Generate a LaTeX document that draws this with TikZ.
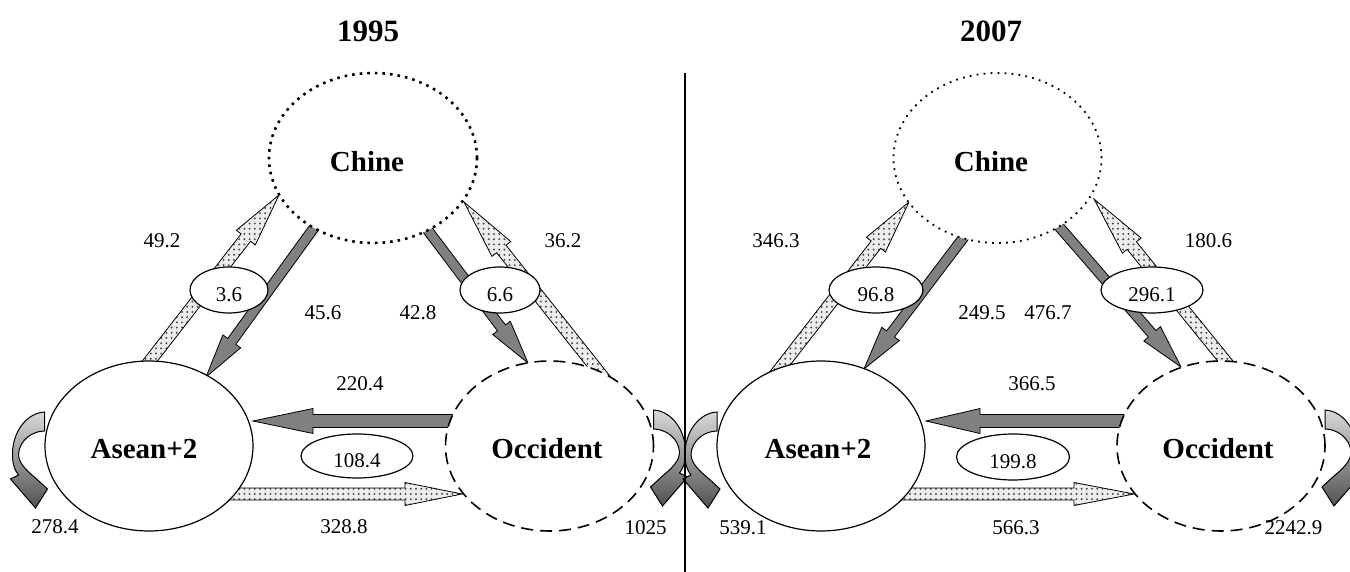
\documentclass[tikz,border=0pt]{standalone}
\usepackage{fontspec}
\setmainfont{Liberation Serif}
\usetikzlibrary{calc,shapes.geometric,patterns.meta}

\newcommand{\fatarr}[6]{%
  \coordinate (fab) at ($(#3)!#6!(#2)$);
  \draw[#1] ($(#2)!#4!90:(#3)$) -- ($(fab)!#4!-90:(#2)$) -- ($(fab)!#5!-90:(#2)$) -- (#3) -- ($(fab)!#5!90:(#2)$) -- ($(fab)!#4!90:(#2)$) -- ($(#2)!#4!-90:(#3)$) -- cycle;}

\newcommand{\selfloop}[2]{%
  \begin{scope}[shift={(#1)}, xscale=#2]
    \draw[loopst] (0,0) .. controls (18,1) and (32,20) .. (32,42)
      .. controls (32,52) and (30,58) .. (26,63) -- (34,67) -- (9,96) -- (-3,77) -- (9,66)
      .. controls (20,57) and (26,50) .. (26,42) .. controls (25,28) and (12,19) .. (0,19) -- cycle;
  \end{scope}}

\tikzset{
  darkarr/.style={draw=black, line width=0.4pt, fill=black!50},
  dotarr/.style={draw=black, line width=0.4pt, preaction={fill=black!7},
    pattern={Dots[radius=0.55pt, distance=2.6pt]}, pattern color=black!70},
  loopst/.style={draw=black, line width=0.5pt, top color=black!15, bottom color=black!68},
  country/.style={ellipse, minimum width=104pt, minimum height=85pt, fill=white, inner sep=0pt},
  ase/.style={country, draw, line width=0.6pt},
  occ/.style={country, draw, line width=0.8pt, dash pattern=on 6pt off 3.5pt},
  chA/.style={country, draw, line width=1.3pt, dash pattern=on 1.3pt off 2.5pt},
  chB/.style={country, draw, line width=0.9pt, dash pattern=on 0.9pt off 2.6pt},
  cname/.style={font=\fontsize{14.5}{16}\selectfont\bfseries, inner sep=0pt},
  title/.style={font=\fontsize{15.5}{17}\selectfont\bfseries, inner sep=0pt},
  val/.style={ellipse, draw, line width=0.6pt, fill=white, inner sep=0pt},
  lab/.style={font=\fontsize{10.5}{12}\selectfont, inner sep=0pt}
}

\begin{document}
\begin{tikzpicture}[x=0.5pt,y=-0.5pt]
\useasboundingbox (0,0) rectangle (1350,572);

% ---------- end points ----------
\coordinate (a1s) at (139,375);  \coordinate (a1e) at (279,195);
\coordinate (a2s) at (324,214);  \coordinate (a2e) at (206,377);
\coordinate (a3s) at (417,216);  \coordinate (a3e) at (528,363);
\coordinate (a4s) at (611,387);  \coordinate (a4e) at (464,202);
\coordinate (h1s) at (458,421);  \coordinate (h1e) at (253,421);
\coordinate (h2s) at (228,494);  \coordinate (h2e) at (462,494);

\coordinate (b1s) at (771,380);  \coordinate (b1e) at (909,202);
\coordinate (b2s) at (973,225);  \coordinate (b2e) at (864,369);
\coordinate (b3s) at (1049,215); \coordinate (b3e) at (1181,367);
\coordinate (b4s) at (1235,373); \coordinate (b4e) at (1094,199);
\coordinate (h3s) at (1128,421); \coordinate (h3e) at (926,421);
\coordinate (h4s) at (898,494);  \coordinate (h4e) at (1134,494);

% ---------- arrows ----------
\fatarr{dotarr}{a1s}{a1e}{3pt}{6pt}{27pt}
\fatarr{darkarr}{a2s}{a2e}{2.5pt}{5.5pt}{22pt}
\fatarr{darkarr}{a3s}{a3e}{2.5pt}{5.5pt}{22pt}
\fatarr{dotarr}{a4s}{a4e}{3pt}{6pt}{30pt}
\fatarr{darkarr}{h1s}{h1e}{3.25pt}{6.25pt}{30pt}
\fatarr{dotarr}{h2s}{h2e}{3pt}{5.75pt}{28.5pt}

\fatarr{dotarr}{b1s}{b1e}{3pt}{6pt}{27pt}
\fatarr{darkarr}{b2s}{b2e}{2.5pt}{5.5pt}{22pt}
\fatarr{darkarr}{b3s}{b3e}{2.5pt}{5.5pt}{22pt}
\fatarr{dotarr}{b4s}{b4e}{3pt}{6pt}{30pt}
\fatarr{darkarr}{h3s}{h3e}{3.25pt}{6.25pt}{27pt}
\fatarr{dotarr}{h4s}{h4e}{3pt}{5.75pt}{30pt}

% ---------- self loops ----------
\selfloop{44.5,412}{-1}
\selfloop{653.5,410}{1}
\selfloop{717,412}{-1}
\selfloop{1325,410}{1}

% ---------- divider ----------
\coordinate (vtop) at (685,73);
\coordinate (vbot) at (685,572);
\draw[line width=0.75pt] (vtop) -- (vbot);

% ---------- countries ----------
\node[ase] (as1) at (149,446) {};
\node[chA] (ch1) at (373,158) {};
\node[occ] (oc1) at (549.5,446) {};
\node[ase] (as2) at (821,446) {};
\node[chB] (ch2) at (997.5,158) {};
\node[occ] (oc2) at (1221,446) {};

\node[cname] (as1t) at (144,449) {Asean+2};
\node[cname] (ch1t) at (367,162) {Chine};
\node[cname] (oc1t) at (547,449) {Occident};
\node[cname] (as2t) at (818,449) {Asean+2};
\node[cname] (ch2t) at (991,162) {Chine};
\node[cname] (oc2t) at (1218,449) {Occident};

% ---------- balance ellipses ----------
\node[val, minimum width=39pt, minimum height=23pt] (v1) at (229,290) {};
\node[val, minimum width=40pt, minimum height=23pt] (v2) at (500,290) {};
\node[val, minimum width=56pt, minimum height=22pt] (v3) at (357,456) {};
\node[val, minimum width=47pt, minimum height=23pt] (v4) at (876,290) {};
\node[val, minimum width=51pt, minimum height=23pt] (v5) at (1152,290) {};
\node[val, minimum width=56.5pt, minimum height=23pt] (v6) at (1013,457) {};
\node[lab] (v1t) at (229,295) {3.6};
\node[lab] (v2t) at (500,295) {6.6};
\node[lab] (v3t) at (357,461) {108.4};
\node[lab] (v4t) at (876,295) {96.8};
\node[lab] (v5t) at (1152,295) {296.1};
\node[lab] (v6t) at (1013,462) {199.8};

% ---------- titles ----------
\node[title] (t1) at (368,31) {1995};
\node[title] (t2) at (991,31) {2007};

% ---------- flow labels ----------
\node[lab] (l1) at (162,241) {49.2};
\node[lab] (l2) at (323,313) {45.6};
\node[lab] (l3) at (418,313) {42.8};
\node[lab] (l4) at (563,241) {36.2};
\node[lab] (l5) at (360,384) {220.4};
\node[lab] (l6) at (344,527) {328.8};
\node[lab] (l7) at (55,527) {278.4};
\node[lab] (l8) at (645.5,528) {1025};

\node[lab] (r1) at (776,241) {346.3};
\node[lab] (r2) at (982,313) {249.5};
\node[lab] (r3) at (1048,313) {476.7};
\node[lab] (r4) at (1208.5,241) {180.6};
\node[lab] (r5) at (1032,384) {366.5};
\node[lab] (r6) at (1016,528) {566.3};
\node[lab] (r7) at (743,528) {539.1};
\node[lab] (r8) at (1293.5,528) {2242.9};
\end{tikzpicture}
\end{document}
